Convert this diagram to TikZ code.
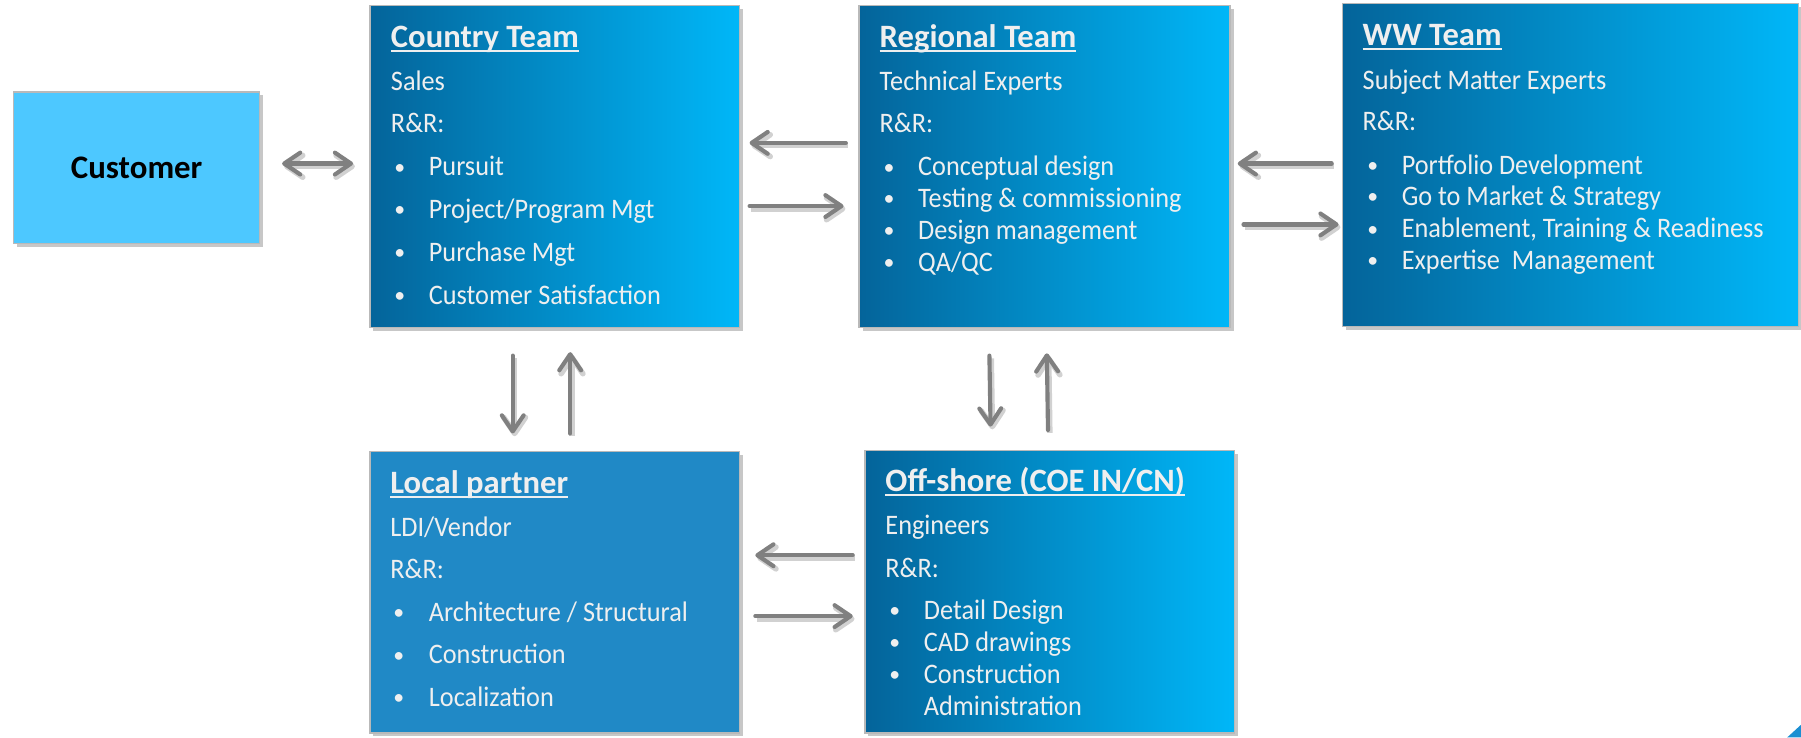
\documentclass[tikz,border=0pt]{standalone}
\usepackage{fontspec}
\setmainfont{Carlito}
\newfontfamily\narrowfont[FakeStretch=0.93]{Carlito}
\usetikzlibrary{arrows.meta,shadows}
\definecolor{gradL}{HTML}{04649A}
\definecolor{gradR}{HTML}{00B7F8}
\definecolor{lpblue}{HTML}{2089C6}
\definecolor{custblue}{HTML}{4DC8FF}
\definecolor{txtw}{HTML}{EFEFEF}
\definecolor{arrgray}{HTML}{808080}
\definecolor{cornerblue}{HTML}{1B8FD2}
\newcommand\ulin[1]{\setbox0=\hbox{#1}\rlap{\rule[-2.1pt]{\wd0}{0.9pt}}\box0}
\begin{document}
\begin{tikzpicture}[x=0.5pt,y=-0.5pt,
  box/.style={draw=gray!55, line width=0.6pt, inner sep=0pt,
    drop shadow={shadow xshift=1.5pt, shadow yshift=-1.5pt, fill=black, opacity=0.22}},
  teambox/.style={box, left color=gradL, right color=gradR},
  txt/.style={anchor=base west, inner sep=0pt, text=txtw, font=\narrowfont\fontsize{12.3}{14}\selectfont},
  bul/.style={anchor=base west, inner sep=0pt, text=txtw, font=\fontsize{9.5}{11}\selectfont},
  ttl/.style={txt, font=\fontsize{14.2}{16}\selectfont\bfseries},
  arr/.style={draw=arrgray, line width=1.8pt, line cap=round,
    -{Straight Barb[length=7pt,width=9.5pt,line cap=round,line join=round]},
    preaction={draw=black!18, line width=2.4pt, transform canvas={xshift=0.8pt,yshift=-1.2pt}}},
  darr/.style={draw=arrgray, line width=1.8pt, line cap=round,
    {Straight Barb[length=7pt,width=9.5pt,line cap=round,line join=round]}-{Straight Barb[length=7pt,width=9.5pt,line cap=round,line join=round]},
    preaction={draw=black!18, line width=2.4pt, transform canvas={xshift=0.8pt,yshift=-1.2pt}}}
]
\useasboundingbox (0,0) rectangle (1568,642);
\fill[white] (0,0) rectangle (1568,642);

% boxes
\node[box, fill=custblue, minimum width=107pt, minimum height=66pt,
  font=\fontsize{14.3}{16}\selectfont\bfseries, text=black] (cust) at (119,146) {\raisebox{-2pt}{Customer}};
\node[teambox, minimum width=161pt, minimum height=140pt] (ct) at (483,145) {};
\node[teambox, minimum width=161.5pt, minimum height=140pt] (rt) at (909.5,145) {};
\node[teambox, minimum width=198.5pt, minimum height=140.5pt] (ww) at (1367.5,143.5) {};
\node[box, fill=lpblue, minimum width=161pt, minimum height=122.5pt] (lp) at (483,515.5) {};
\node[teambox, minimum width=161pt, minimum height=123pt] (os) at (914,515) {};

% Country Team
\node[ttl] (ct0) at (340,41.5) {\ulin{Country Team}};
\node[txt] (ct1) at (340,78.4) {Sales};
\node[txt] (ct2) at (340,115.6) {R\&R:};
\node[bul] (ctb1) at (343,151.5) {•};
\node[txt] (ct3) at (373,153) {Pursuit};
\node[bul] (ctb2) at (343,188.5) {•};
\node[txt] (ct4) at (373,190) {Project/Program Mgt};
\node[bul] (ctb3) at (343,226) {•};
\node[txt] (ct5) at (373,227.5) {Purchase Mgt};
\node[bul] (ctb4) at (343,263.5) {•};
\node[txt] (ct6) at (373,265) {Customer Satisfaction};

% Regional Team
\node[ttl] (rt0) at (765.5,41.5) {\ulin{Regional Team}};
\node[txt] (rt1) at (765.5,78.4) {Technical Experts};
\node[txt] (rt2) at (765.5,115.6) {R\&R:};
\node[bul] (rtb1) at (769,151.5) {•};
\node[txt] (rt3) at (799,153) {Conceptual design};
\node[bul] (rtb2) at (769,179) {•};
\node[txt] (rt4) at (799,180.5) {Testing \& commissioning};
\node[bul] (rtb3) at (769,206.9) {•};
\node[txt] (rt5) at (799,208.4) {Design management};
\node[bul] (rtb4) at (769,235) {•};
\node[txt] (rt6) at (799,236.5) {QA/QC};

% WW Team
\node[ttl] (ww0) at (1186,39.2) {\ulin{WW Team}};
\node[txt] (ww1) at (1186,77.8) {Subject Matter Experts};
\node[txt] (ww2) at (1186,114) {R\&R:};
\node[bul] (wwb1) at (1190,150) {•};
\node[txt] (ww3) at (1220,151.5) {Portfolio Development};
\node[bul] (wwb2) at (1190,177.5) {•};
\node[txt] (ww4) at (1220,179) {Go to Market \& Strategy};
\node[bul] (wwb3) at (1190,205.5) {•};
\node[txt] (ww5) at (1220,207) {Enablement, Training \& Readiness};
\node[bul] (wwb4) at (1190,233) {•};
\node[txt] (ww6) at (1220,234.5) {Expertise\ \ Management};

% Local partner
\node[ttl] (lp0) at (339.5,429.5) {\ulin{Local partner}};
\node[txt] (lp1) at (339.5,467) {LDI/Vendor};
\node[txt] (lp2) at (339.5,503.5) {R\&R:};
\node[bul] (lpb1) at (342,539.5) {•};
\node[txt] (lp3) at (373,541) {Architecture / Structural};
\node[bul] (lpb2) at (342,576.5) {•};
\node[txt] (lp4) at (373,578) {Construction};
\node[bul] (lpb3) at (342,613.5) {•};
\node[txt] (lp5) at (373,615) {Localization};

% Off-shore
\node[ttl] (os0) at (770.5,428) {\ulin{Off-shore (COE IN/CN)}};
\node[txt] (os1) at (770.5,465) {Engineers};
\node[txt] (os2) at (770.5,502.6) {R\&R:};
\node[bul] (osb1) at (774,537.5) {•};
\node[txt] (os3) at (804,539) {Detail Design};
\node[bul] (osb2) at (774,565.9) {•};
\node[txt] (os4) at (804,567.4) {CAD drawings};
\node[bul] (osb3) at (774,593.5) {•};
\node[txt] (os5) at (804,595) {Construction};
\node[txt] (os6) at (804,622.5) {Administration};

% connectors
\draw[darr] ([shift={(19,63)}]cust.north east) -- ([shift={(-14,138)}]ct.north west);
\draw[arr] ([shift={(-11,120)}]rt.north west) -- ([shift={(8,120)}]ct.north east);
\draw[arr] ([shift={(8,175)}]ct.north east) -- ([shift={(-13,175)}]rt.north west);
\draw[arr] ([shift={(-9,140)}]ww.north west) -- ([shift={(6,138)}]rt.north east);
\draw[arr] ([shift={(11,191)}]rt.north east) -- ([shift={(-3,193)}]ww.north west);
\draw[arr] ([shift={(125,24)}]ct.south west) -- ([shift={(125,-15)}]lp.north west);
\draw[arr] ([shift={(175,-15)}]lp.north west) -- ([shift={(175,21)}]ct.south west);
\draw[arr] ([shift={(114,24)}]rt.south west) -- ([shift={(110,-20)}]os.north west);
\draw[arr] ([shift={(160,-17)}]os.north west) -- ([shift={(164,22)}]rt.south west);
\draw[arr] ([shift={(-10,92)}]os.north west) -- ([shift={(13,91)}]lp.north east);
\draw[arr] ([shift={(13,144)}]lp.north east) -- ([shift={(-10,145)}]os.north west);

% corner mark
\fill[cornerblue] (1556,642) -- (1568,642) -- (1568,631) -- cycle;
\end{tikzpicture}
\end{document}
